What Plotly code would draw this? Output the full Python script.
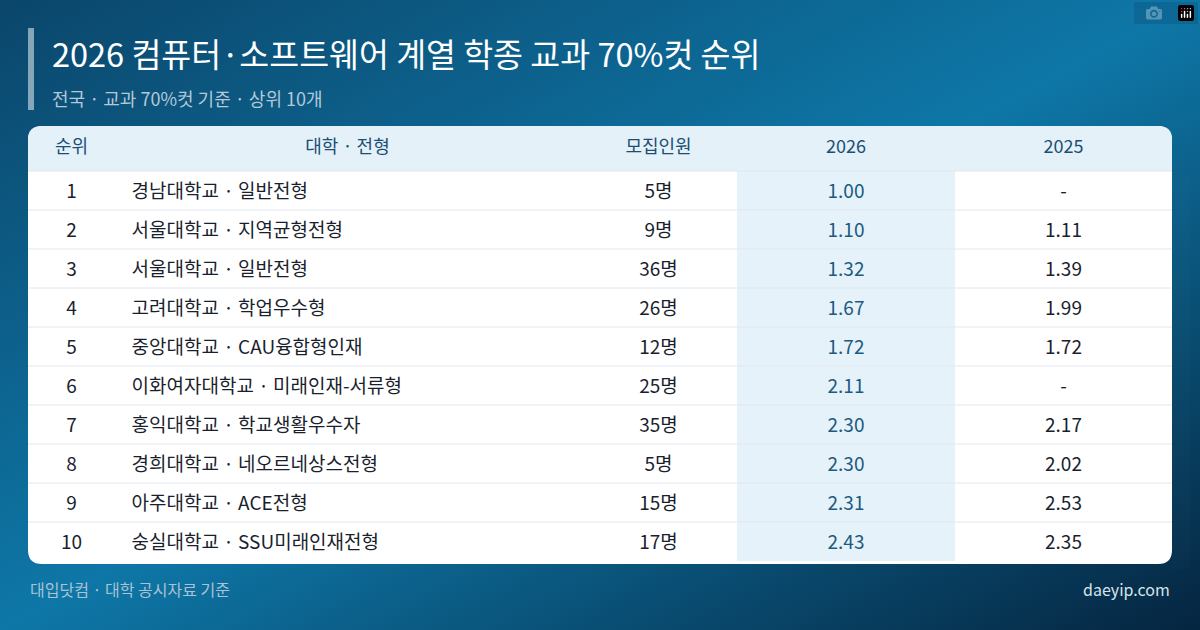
import plotly.graph_objects as go
import urllib.parse

ranks = [1, 2, 3, 4, 5, 6, 7, 8, 9, 10]
schools = ["경남대학교 · 일반전형", "서울대학교 · 지역균형전형", "서울대학교 · 일반전형", "고려대학교 · 학업우수형",
           "중앙대학교 · CAU융합형인재", "이화여자대학교 · 미래인재-서류형", "홍익대학교 · 학교생활우수자",
           "경희대학교 · 네오르네상스전형", "아주대학교 · ACE전형", "숭실대학교 · SSU미래인재전형"]
quota = [5, 9, 36, 26, 12, 25, 35, 5, 15, 17]
cut2026 = [1.00, 1.10, 1.32, 1.67, 1.72, 2.11, 2.30, 2.30, 2.31, 2.43]
cut2025 = [None, 1.11, 1.39, 1.99, 1.72, None, 2.17, 2.02, 2.53, 2.35]
headers = ["순위", "대학 · 전형", "모집인원", "2026", "2025"]

W, H = 1200, 630
FONT = "Noto Sans CJK KR"
L, R, T, B = 28, 1172, 126, 564
HDR, ROW = 45, 39
cols_px = [28, 115, 580, 737, 955, 1172]
SHIFT = 5

def px(x): return x / W
def py(y): return 1 - y / H

svg = ("<svg xmlns='http://www.w3.org/2000/svg' width='1200' height='630'><defs>"
       "<linearGradient id='g' x1='0' y1='0' x2='1' y2='1'>"
       "<stop offset='0' stop-color='#0b466b'/><stop offset='0.5' stop-color='#0e77a7'/>"
       "<stop offset='1' stop-color='#052540'/></linearGradient></defs>"
       "<rect width='1200' height='630' fill='url(#g)'/></svg>")
img = "data:image/svg+xml;charset=utf-8," + urllib.parse.quote(svg)

fig = go.Figure()
fig.add_trace(go.Table(
    domain=dict(x=[px(L), px(R)], y=[py(B + SHIFT), py(T + SHIFT)]),
    columnwidth=[cols_px[i+1] - cols_px[i] for i in range(5)],
    header=dict(values=headers, height=HDR, fill_color="rgba(0,0,0,0)",
                line=dict(width=0, color="rgba(0,0,0,0)"),
                font=dict(family=FONT, size=18, color="#1b4f74"), align="center"),
    cells=dict(values=[ranks, ["  " + s for s in schools], [f"{q}명" for q in quota],
                       [f"{v:.2f}" for v in cut2026],
                       ["-" if v is None else f"{v:.2f}" for v in cut2025]],
               height=ROW, fill_color="rgba(0,0,0,0)",
               line=dict(width=0, color="rgba(0,0,0,0)"),
               font=dict(family=FONT, size=19, color=["#1a1f2e", "#1a1f2e", "#1a1f2e", "#1d5a80", "#1a1f2e"]),
               align=["center", "left", "center", "center", "center"]),
))

r = 14
card = (f"M {L+r},{T} L {R-r},{T} Q {R},{T} {R},{T+r} L {R},{B-r} Q {R},{B} {R-r},{B} "
        f"L {L+r},{B} Q {L},{B} {L},{B-r} L {L},{T+r} Q {L},{T} {L+r},{T} Z")
hdr = (f"M {L+r},{T} L {R-r},{T} Q {R},{T} {R},{T+r} L {R},{T+HDR} L {L},{T+HDR} L {L},{T+r} Q {L},{T} {L+r},{T} Z")

def path_to_paper(p):
    out = []
    for tok in p.split():
        if "," in tok:
            a, b = tok.split(",")
            out.append(f"{px(float(a))},{py(float(b))}")
        else:
            out.append(tok)
    return " ".join(out)

shapes = [
    dict(type="path", path=path_to_paper(card), xref="paper", yref="paper", fillcolor="white", line=dict(width=0), layer="below"),
    dict(type="path", path=path_to_paper(hdr), xref="paper", yref="paper", fillcolor="#e4f1f9", line=dict(width=0), layer="below"),
    dict(type="rect", xref="paper", yref="paper", x0=px(cols_px[3]), x1=px(cols_px[4]),
         y0=py(T + HDR + ROW * len(ranks)), y1=py(T + HDR), fillcolor="#e5f2fa", line=dict(width=0), layer="below"),
    dict(type="rect", xref="paper", yref="paper", x0=px(28), x1=px(34), y0=py(110), y1=py(28),
         fillcolor="rgba(255,255,255,0.5)", line=dict(width=0), layer="below"),
]
for i in range(len(ranks)):
    y = T + HDR + ROW * i
    shapes.append(dict(type="line", xref="paper", yref="paper", x0=px(L), x1=px(R), y0=py(y), y1=py(y),
                       line=dict(color="#e1e7ee", width=1), layer="below"))

ann = [
    dict(text="2026 컴퓨터·소프트웨어 계열 학종 교과 70%컷 순위", x=px(50), y=py(52), xanchor="left", yanchor="middle",
         font=dict(family=FONT, size=32.5, color="white")),
    dict(text="전국 · 교과 70%컷 기준 · 상위 10개", x=px(50), y=py(98), xanchor="left", yanchor="middle",
         font=dict(family=FONT, size=18, color="#b3c9d8")),
    dict(text="대입닷컴 · 대학 공시자료 기준", x=px(28), y=py(589), xanchor="left", yanchor="middle",
         font=dict(family=FONT, size=16, color="#a9c3d5")),
    dict(text="daeyip.com", x=px(1172), y=py(589), xanchor="right", yanchor="middle",
         font=dict(family=FONT, size=16, color="#d6e3ec")),
]
for a in ann:
    a.update(xref="paper", yref="paper", showarrow=False)

fig.update_layout(width=W, height=H, margin=dict(l=0, r=0, t=0, b=0),
                  paper_bgcolor="#0b5a86", plot_bgcolor="rgba(0,0,0,0)",
                  shapes=shapes, annotations=ann,
                  images=[dict(source=img, xref="paper", yref="paper", x=0, y=1, sizex=1, sizey=1,
                               sizing="stretch", layer="below", xanchor="left", yanchor="top")])
fig.write_html("out.html", post_script="document.body.style.margin='0';document.body.style.overflow='hidden';")
